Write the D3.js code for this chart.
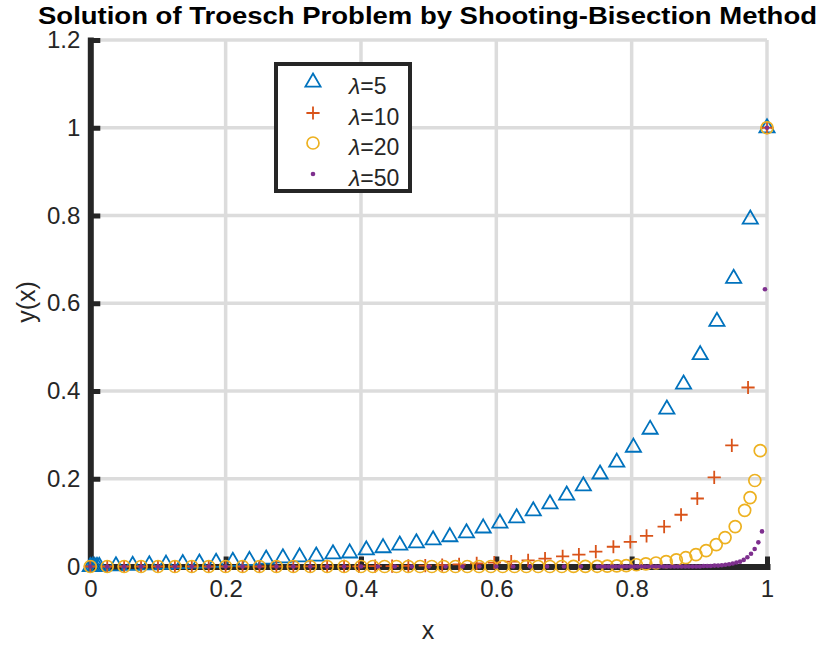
<!DOCTYPE html>
<html><head><meta charset="utf-8">
<script src="https://cdn.jsdelivr.net/npm/d3@7"></script>
<style>body{margin:0;background:#fff} svg{display:block} text{font-family:"Liberation Sans",Arial,Helvetica,sans-serif}</style>
</head><body><svg id="c" width="820" height="645"></svg>
<script>
// ---- data ----
const xTicks = [0, 0.2, 0.4, 0.6, 0.8, 1];
const yTicks = [0, 0.2, 0.4, 0.6, 0.8, 1, 1.2];
const lambdas = [5, 10, 20, 50];

const x5 = [0, 0.0033, 0.0066, 0.0099, 0.0132, 0.0379, 0.0626, 0.0872, 0.1119, 0.1366, 0.1612, 0.1859, 0.2106, 0.2352, 0.2599, 0.2846, 0.3093, 0.3339, 0.3586, 0.3833, 0.4079, 0.4326, 0.4573, 0.4819, 0.5066, 0.5313, 0.5559, 0.5806, 0.6053, 0.6300, 0.6546, 0.6793, 0.7040, 0.7286, 0.7533, 0.7780, 0.8026, 0.8273, 0.8520, 0.8767, 0.9013, 0.9260, 0.9507, 0.9753, 1.0];
const y5 = [0, 0.0002, 0.0003, 0.0005, 0.0006, 0.0017, 0.0029, 0.0041, 0.0054, 0.0067, 0.0081, 0.0097, 0.012, 0.014, 0.017, 0.020, 0.022, 0.024, 0.029, 0.031, 0.038, 0.043, 0.049, 0.054, 0.061, 0.068, 0.077, 0.088, 0.099, 0.111, 0.127, 0.143, 0.163, 0.184, 0.211, 0.238, 0.272, 0.313, 0.359, 0.416, 0.483, 0.559, 0.657, 0.792, 1.0];

const x10 = [0, 0.025, 0.05, 0.075, 0.1, 0.125, 0.15, 0.175, 0.2, 0.225, 0.25, 0.275, 0.3, 0.325, 0.35, 0.375, 0.397, 0.421, 0.446, 0.470, 0.495, 0.520, 0.545, 0.571, 0.597, 0.622, 0.647, 0.672, 0.698, 0.722, 0.747, 0.773, 0.798, 0.822, 0.848, 0.873, 0.897, 0.922, 0.948, 0.972, 1.0];
const y10 = [0, 0, 0, 0, 0, 0, 0, 0, 0, 0, 0, 0, 0, 0.0001, 0.0002, 0.0003, 0.0005, 0.0008, 0.001, 0.0015, 0.002, 0.003, 0.005, 0.007, 0.009, 0.011, 0.014, 0.018, 0.023, 0.027, 0.034, 0.045, 0.056, 0.070, 0.091, 0.118, 0.155, 0.203, 0.276, 0.408, 1.0];

const x20 = [0, 0.025, 0.05, 0.075, 0.1, 0.125, 0.15, 0.175, 0.2, 0.225, 0.25, 0.275, 0.3, 0.325, 0.35, 0.375, 0.4, 0.4175, 0.4349, 0.4524, 0.4698, 0.4873, 0.5047, 0.5222, 0.5396, 0.5571, 0.5745, 0.5920, 0.6094, 0.6269, 0.6443, 0.6618, 0.6792, 0.6967, 0.7141, 0.7316, 0.749, 0.764, 0.778, 0.792, 0.807, 0.821, 0.836, 0.851, 0.866, 0.880, 0.895, 0.910, 0.925, 0.938, 0.953, 0.967, 0.975, 0.982, 0.990, 1.0];
const y20 = [0, 0, 0, 0, 0, 0, 0, 0, 0, 0, 0, 0, 0, 0, 0, 0, 0, 0, 0, 0, 0, 0, 0, 0, 0, 0, 0, 0, 0, 0, 0, 0, 0, 0, 0.0002, 0.0003, 0.0005, 0.001, 0.0015, 0.002, 0.004, 0.006, 0.008, 0.011, 0.015, 0.020, 0.027, 0.036, 0.050, 0.066, 0.091, 0.128, 0.157, 0.196, 0.264, 1.0];

const x50 = [0, 0.025, 0.05, 0.075, 0.1, 0.125, 0.15, 0.175, 0.2, 0.225, 0.25, 0.275, 0.3, 0.325, 0.35, 0.375, 0.4, 0.425, 0.45, 0.475, 0.5, 0.525, 0.55, 0.575, 0.6, 0.625, 0.65, 0.675, 0.7, 0.725, 0.75,
  0.7550, 0.7604, 0.7658, 0.7712, 0.7766, 0.7820, 0.7874, 0.7928, 0.7982, 0.8036, 0.8090, 0.8144, 0.8198, 0.8252, 0.8306, 0.8360, 0.8414, 0.8468, 0.8522, 0.8576, 0.8630, 0.8684, 0.8738, 0.8792, 0.8846, 0.8900, 0.8954, 0.9008, 0.9062, 0.9116, 0.9170, 0.9224, 0.9278, 0.9332, 0.9386, 0.9440, 0.9494, 0.9548, 0.9602, 0.9656, 0.9710, 0.9764, 0.9818, 0.9872, 0.9926, 0.997, 1.0];
const y50 = [0, 0, 0, 0, 0, 0, 0, 0, 0, 0, 0, 0, 0, 0, 0, 0, 0, 0, 0, 0, 0, 0, 0, 0, 0, 0, 0, 0, 0, 0, 0,
  0, 0, 0, 0, 0, 0, 0, 0, 0, 0, 0, 0, 0, 0, 0, 0, 0, 0, 0, 0, 0, 0, 0, 0, 0, 0, 0, 0, 0.001, 0.001, 0.001, 0.002, 0.002, 0.003, 0.004, 0.005, 0.007, 0.009, 0.011, 0.015, 0.021, 0.029, 0.040, 0.055, 0.080, 0.632, 1.0];

// ---- layout ----
const W = 820, H = 645;
const svg = d3.select("#c");
svg.append("rect").attr("width", W).attr("height", H).attr("fill", "#fff");

const x = d3.scaleLinear().domain([0, 1]).range([90.3, 767]);
const y = d3.scaleLinear().domain([0, 1.2]).range([566.5, 40]);
const ink = "#262626";

// grid
const grid = svg.append("g").attr("stroke", "#dcdcdc").attr("stroke-width", 3.5);
grid.selectAll("line.gx").data(xTicks.filter(d => d > 0)).join("line")
  .attr("x1", d => x(d)).attr("x2", d => x(d)).attr("y1", y(0)).attr("y2", y(1.2));
grid.selectAll("line.gy").data(yTicks.filter(d => d > 0)).join("line")
  .attr("y1", d => y(d)).attr("y2", d => y(d)).attr("x1", x(0)).attr("x2", x(1));

// axes
const fmt = d3.format("");
const gx = svg.append("g").attr("transform", `translate(0,${y(0)})`)
  .call(d3.axisBottom(x).tickValues(xTicks).tickFormat(fmt).tickSize(-10).tickSizeOuter(0).tickPadding(13));
const gy = svg.append("g").attr("transform", `translate(${x(0)},0)`)
  .call(d3.axisLeft(y).tickValues(yTicks).tickFormat(fmt).tickSize(-10).tickSizeOuter(0).tickPadding(10));
[gx, gy].forEach(g => {
  g.select(".domain").attr("stroke", ink).attr("stroke-width", 6).attr("stroke-linecap", "square");
  g.selectAll(".tick line").attr("stroke", ink).attr("stroke-width", 5);
  g.selectAll(".tick text").attr("fill", ink).attr("font-size", 24)
    .attr("font-family", '"Liberation Sans",Arial,sans-serif');
});

// markers
const triPath = "M0,-8.5L7.6,4.6L-7.6,4.6Z";
const plusPath = "M-6.6,0H6.6M0,-6.6V6.6";
const colors = ["#0072BD", "#D95319", "#EDB120", "#7E2F8E"];
const series = [
  {xs: x5, ys: y5}, {xs: x10, ys: y10}, {xs: x20, ys: y20}, {xs: x50, ys: y50}
];
function drawMarker(sel, i) {
  if (i === 0) sel.append("path").attr("d", triPath).attr("fill", "none").attr("stroke", colors[0]).attr("stroke-width", 1.8);
  else if (i === 1) sel.append("path").attr("d", plusPath).attr("fill", "none").attr("stroke", colors[1]).attr("stroke-width", 1.8);
  else if (i === 2) sel.append("circle").attr("r", 6).attr("fill", "none").attr("stroke", colors[2]).attr("stroke-width", 1.7);
  else sel.append("circle").attr("r", 2.3).attr("fill", colors[3]);
}
series.forEach((s, i) => {
  const pts = s.xs.map((v, k) => [v, s.ys[k]]);
  const g = svg.append("g");
  g.selectAll("g").data(pts).join("g")
    .attr("transform", d => `translate(${x(d[0])},${y(d[1])})`)
    .each(function () { drawMarker(d3.select(this), i); });
});

// title and labels
svg.append("text").attr("x", 427.5).attr("y", 24).attr("text-anchor", "middle")
  .attr("font-size", 23).attr("font-weight", "bold").attr("fill", "#000")
  .attr("textLength", 779).attr("lengthAdjust", "spacingAndGlyphs")
  .text("Solution of Troesch Problem by Shooting-Bisection Method");
svg.append("text").attr("x", 428).attr("y", 639).attr("text-anchor", "middle")
  .attr("font-size", 25).attr("fill", ink).text("x");
svg.append("text").attr("transform", "translate(35,302) rotate(-90)").attr("text-anchor", "middle")
  .attr("font-size", 25).attr("fill", ink).text("y(x)");

// legend
const lg = svg.append("g");
lg.append("rect").attr("x", 276).attr("y", 64).attr("width", 134).attr("height", 127)
  .attr("fill", "#fff").attr("stroke", ink).attr("stroke-width", 4);
const rowY = [82, 113, 143, 174];
lambdas.forEach((l, i) => {
  const m = lg.append("g").attr("transform", `translate(313,${rowY[i]})`);
  drawMarker(m, i);
  const t = lg.append("text").attr("x", 349).attr("y", rowY[i] + 4).attr("dy", "0.35em")
    .attr("font-size", 23).attr("fill", ink);
  t.append("tspan").attr("font-style", "italic").text("λ");
  t.append("tspan").text("=" + l);
});
</script></body></html>
